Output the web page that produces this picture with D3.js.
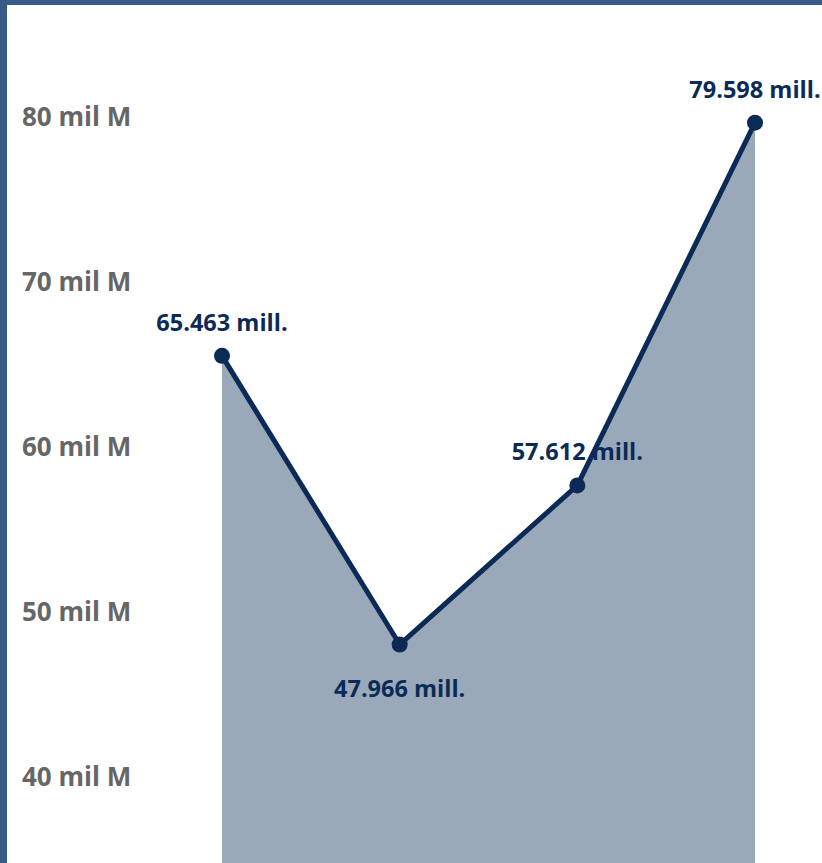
<!DOCTYPE html>
<html><head><meta charset="utf-8">
<script src="https://cdn.jsdelivr.net/npm/d3@7"></script>
<style>
html,body{margin:0;padding:0;background:#fff;}
svg{display:block;}
</style></head>
<body>
<svg id="chart" width="822" height="863"></svg>
<script>
const categories = ["P1", "P2", "P3", "P4"];
const values = [65.463, 47.966, 57.612, 79.598];
const valueLabels = ["65.463 mill.", "47.966 mill.", "57.612 mill.", "79.598 mill."];
const tickValues = [40, 50, 60, 70, 80];
const tickLabels = ["40 mil M", "50 mil M", "60 mil M", "70 mil M", "80 mil M"];

const W = 822, H = 863;
const svg = d3.select("#chart");
const font = "'Open Sans', 'Noto Sans', sans-serif";

const x = d3.scalePoint().domain(categories).range([222, 755]);
const y = d3.scaleLinear().domain([40, 80]).range([776, 116]);

// area
const area = d3.area().x((d,i)=>x(categories[i])).y0(H).y1(d=>y(d));
svg.append("path").datum(values).attr("d", area).attr("fill", "#9aa9ba");

// line
const line = d3.line().x((d,i)=>x(categories[i])).y(d=>y(d));
svg.append("path").datum(values).attr("d", line)
  .attr("fill","none").attr("stroke","#0c2a56").attr("stroke-width",5)
  .attr("stroke-linejoin","round");

// dots
svg.selectAll("circle.dot").data(values).join("circle")
  .attr("cx",(d,i)=>x(categories[i])).attr("cy",d=>y(d)).attr("r",8)
  .attr("fill","#0c2a56");

// y axis labels
const yAxis = d3.axisLeft(y).tickValues(tickValues).tickFormat((d,i)=>tickLabels[i]).tickSize(0);
const ga = svg.append("g").attr("transform","translate(22,0)").call(yAxis);
ga.select(".domain").remove();
ga.selectAll("text").attr("text-anchor","start").attr("x",0).attr("dy","0.35em")
  .attr("fill","#666666").style("font-family",font).style("font-weight","bold").style("font-size","26px");

// data labels
const offsets = [-33, 44, -34, -33];
svg.selectAll("text.lbl").data(values).join("text").attr("class","lbl")
  .attr("x",(d,i)=>x(categories[i]))
  .attr("y",(d,i)=>y(d)+offsets[i])
  .attr("dy","0.35em")
  .attr("text-anchor","middle")
  .attr("fill","#0c2a56").style("font-family",font).style("font-weight","bold").style("font-size","23.5px")
  .text((d,i)=>valueLabels[i]);

// border
svg.append("rect").attr("x",0).attr("y",0).attr("width",W).attr("height",5).attr("fill","#375a87");
svg.append("rect").attr("x",0).attr("y",0).attr("width",7).attr("height",H).attr("fill","#375a87");
</script>
</body></html>
